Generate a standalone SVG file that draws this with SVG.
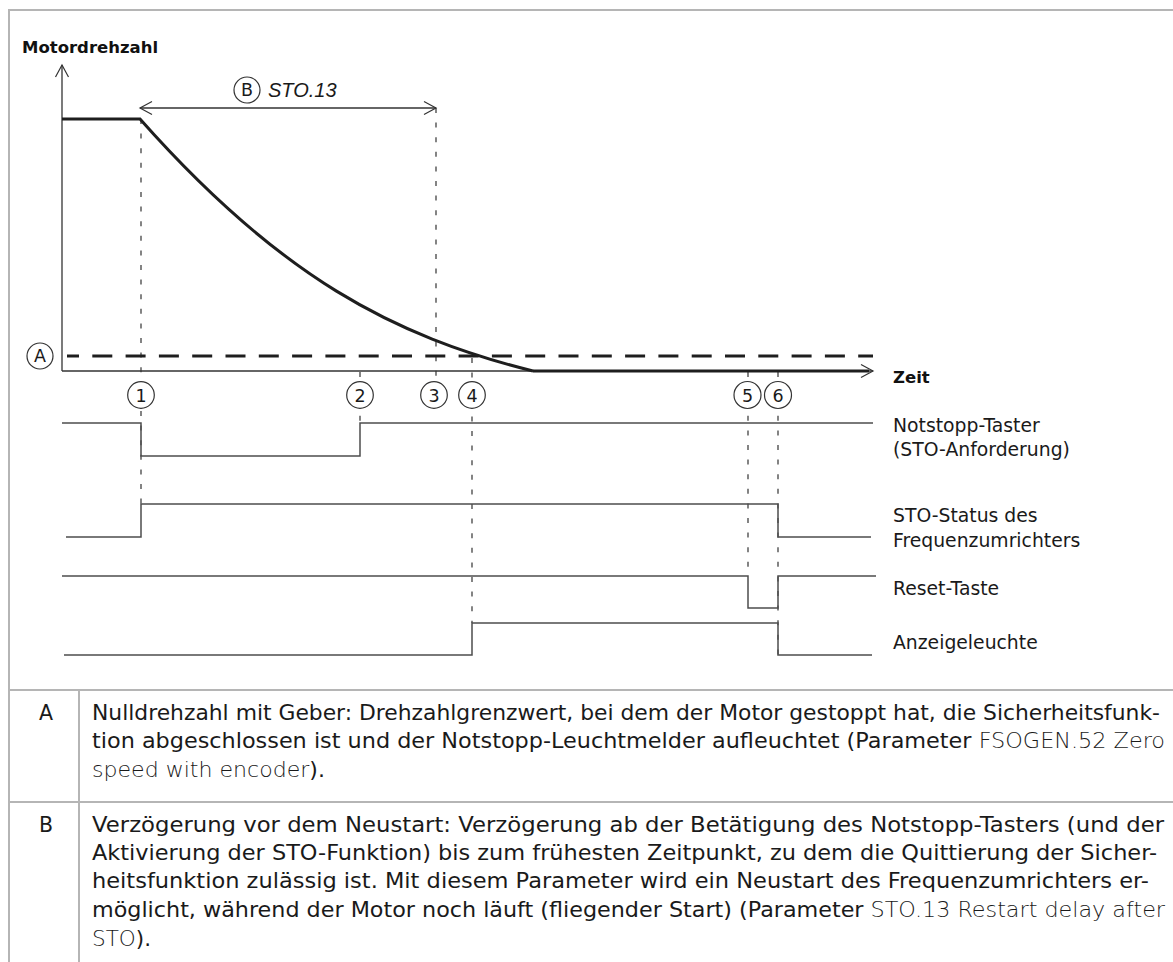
<svg xmlns="http://www.w3.org/2000/svg" width="1173" height="962" viewBox="0 0 1173 962">
<defs>
<marker id="chev" viewBox="-14 -8 16 16" markerWidth="16" markerHeight="16" refX="0" refY="0" orient="auto-start-reverse" markerUnits="userSpaceOnUse">
<path d="M-12,-6.5 L0,0 L-12,6.5" fill="none" stroke="#333" stroke-width="1.2"/>
</marker>
<style>
.frame{stroke:#b5b5b5;stroke-width:2;fill:none}
.axis{stroke:#333;stroke-width:1.3;fill:none}
.thick{stroke:#1e1e1e;stroke-width:3;fill:none}
.guide{stroke:#333;stroke-width:1.2;stroke-dasharray:5 9.6;fill:none}
.sig{stroke:#4d4d4d;stroke-width:1.5;fill:none}
.zero{stroke:#1e1e1e;stroke-width:3;stroke-dasharray:20 13.3;stroke-dashoffset:8;fill:none}
.callout circle{fill:#fff;stroke:#333;stroke-width:1.2}
.callout text{font-family:"DejaVu Sans",sans-serif;font-size:17.5px;fill:#1a1a1a;text-anchor:middle}
.lbl{font-family:"DejaVu Sans",sans-serif;font-size:18.8px;fill:#1a1a1a}
.bold{font-family:"DejaVu Sans",sans-serif;font-size:16.5px;font-weight:bold;fill:#111}
.tbl{font-family:"DejaVu Sans",sans-serif;font-size:20.5px;fill:#1a1a1a}
.lt{font-weight:300;fill:#1a1a1a}
.ital{font-family:"Liberation Sans",Arial,sans-serif;font-style:italic;font-size:20px;fill:#1a1a1a}
</style>
</defs>
<rect width="1173" height="962" fill="#fff"/>

<g id="frame">
<path class="frame" d="M9,962 V10 H1173"/>
<path class="frame" d="M9,690 H1173 M9,802 H1173 M79,690 V962"/>
</g>

<g id="connectors">
<path class="guide" d="M141,119 V504"/>
<path class="guide" d="M360,372 V423"/>
<path class="guide" d="M436,108 V377"/>
<path class="guide" d="M472,358 V623"/>
<path class="guide" d="M748,372 V576"/>
<path class="guide" d="M778,372 V655"/>
<path class="zero" d="M67,356 H873"/>
<path class="axis" d="M62,371 V65" marker-end="url(#chev)"/>
<path class="axis" d="M62,371 H873" marker-end="url(#chev)"/>
<path class="thick" d="M533,371 H869"/>
<path class="thick" d="M62,119 H140 C280,277 393,336 533,371"/>
<path class="axis" d="M140,108 H436" marker-start="url(#chev)" marker-end="url(#chev)"/>
<path id="sig-notstopp" class="sig" d="M62,423 H141 V456 H360 V423 H873"/>
<path id="sig-sto" class="sig" d="M66,537 H141 V504 H778 V537 H871"/>
<path id="sig-reset" class="sig" d="M62,576 H748 V608 H778 V576 H876"/>
<path id="sig-lamp" class="sig" d="M64,655 H472 V623 H778 V655 H872"/>
</g>

<g id="callout-A" class="callout"><circle cx="40" cy="356" r="13"/><text x="40" y="362">A</text></g>
<g id="callout-B" class="callout"><circle cx="247" cy="90" r="13"/><text x="247" y="96">B</text></g>
<g id="callout-1" class="callout"><circle cx="141" cy="395" r="13.3"/><text x="141" y="401.5">1</text></g>
<g id="callout-2" class="callout"><circle cx="360" cy="395" r="13.3"/><text x="360" y="401.5">2</text></g>
<g id="callout-3" class="callout"><circle cx="434" cy="395" r="13.3"/><text x="434" y="401.5">3</text></g>
<g id="callout-4" class="callout"><circle cx="472" cy="395" r="13.3"/><text x="472" y="401.5">4</text></g>
<g id="callout-5" class="callout"><circle cx="747.5" cy="395" r="13.5"/><text x="747.5" y="401.5">5</text></g>
<g id="callout-6" class="callout"><circle cx="778" cy="395" r="13.5"/><text x="778" y="401.5">6</text></g>

<g id="labels">
<text class="bold" x="22" y="53">Motordrehzahl</text>
<text class="bold" x="893" y="383">Zeit</text>
<text class="ital" x="268" y="97">STO.13</text>
<text class="lbl" x="893" y="432">Notstopp-Taster</text>
<text class="lbl" x="893" y="456">(STO-Anforderung)</text>
<text class="lbl" x="893" y="522">STO-Status des</text>
<text class="lbl" x="893" y="547">Frequenzumrichters</text>
<text class="lbl" x="893" y="595">Reset-Taste</text>
<text class="lbl" x="893" y="649">Anzeigeleuchte</text>
</g>

<g id="table">
<text class="tbl" x="46" y="720" text-anchor="middle">A</text>
<text class="tbl" x="92" y="720" textLength="1068" lengthAdjust="spacingAndGlyphs">Nulldrehzahl mit Geber: Drehzahlgrenzwert, bei dem der Motor gestoppt hat, die Sicherheitsfunk-</text>
<text class="tbl" x="92" y="748" textLength="1073" lengthAdjust="spacingAndGlyphs">tion abgeschlossen ist und der Notstopp-Leuchtmelder aufleuchtet (Parameter <tspan class="lt">FSOGEN.52 Zero</tspan></text>
<text class="tbl" x="92" y="777" textLength="233" lengthAdjust="spacingAndGlyphs"><tspan class="lt">speed with encoder</tspan>).</text>
<text class="tbl" x="46" y="832" text-anchor="middle">B</text>
<text class="tbl" x="92" y="832" textLength="1072" lengthAdjust="spacingAndGlyphs">Verzögerung vor dem Neustart: Verzögerung ab der Betätigung des Notstopp-Tasters (und der</text>
<text class="tbl" x="92" y="860" textLength="1065" lengthAdjust="spacingAndGlyphs">Aktivierung der STO-Funktion) bis zum frühesten Zeitpunkt, zu dem die Quittierung der Sicher-</text>
<text class="tbl" x="92" y="888" textLength="1057" lengthAdjust="spacingAndGlyphs">heitsfunktion zulässig ist. Mit diesem Parameter wird ein Neustart des Frequenzumrichters er-</text>
<text class="tbl" x="92" y="917" textLength="1073" lengthAdjust="spacingAndGlyphs">möglicht, während der Motor noch läuft (fliegender Start) (Parameter <tspan class="lt">STO.13 Restart delay after</tspan></text>
<text class="tbl" x="92" y="946" textLength="59" lengthAdjust="spacingAndGlyphs"><tspan class="lt">STO</tspan>).</text>
</g>
</svg>
